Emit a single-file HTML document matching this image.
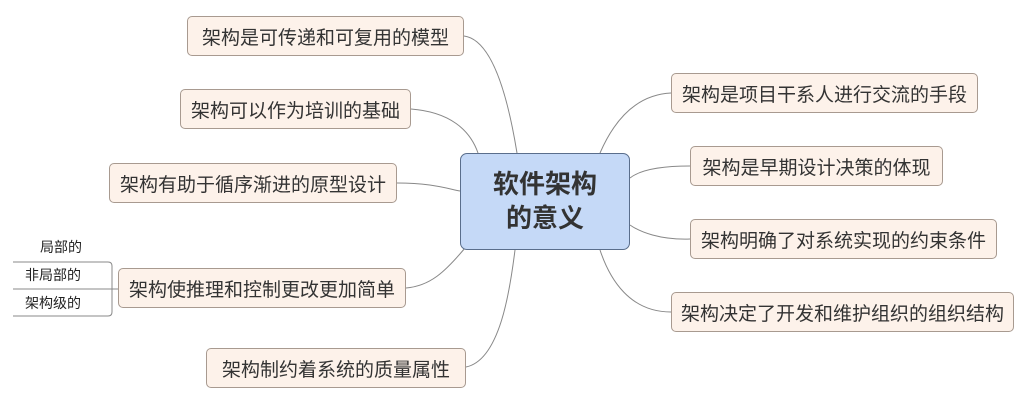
<!DOCTYPE html>
<html><head><meta charset="utf-8"><style>
html,body{margin:0;padding:0;background:#fff;}
body{width:1032px;height:405px;position:relative;overflow:hidden;font-family:"Liberation Sans","Noto Sans CJK SC",sans-serif;}
.b{position:absolute;box-sizing:border-box;background:#fdf2ea;border:1px solid #a89a90;border-radius:5px;font-size:19px;color:#333;display:flex;align-items:center;justify-content:center;white-space:nowrap;letter-spacing:0px;}
.c{position:absolute;left:460px;top:153px;width:170px;height:97px;box-sizing:border-box;background:#c5d9f7;border:1.5px solid #5a6e8c;border-radius:7px;font-size:26px;font-weight:bold;color:#333;text-align:center;line-height:34px;padding-top:13px;}
.s{position:absolute;font-size:14px;color:#222;}
svg{position:absolute;left:0;top:0;}
</style></head><body>
<svg width="1032" height="405">
<g fill="none" stroke="#888" stroke-width="1">
<path d="M464 36 C495 40 510 110 517 153"/>
<path d="M411 109 C450 112 470 130 478 153"/>
<path d="M397 183 C430 183 445 188 460 191"/>
<path d="M406 288 C430 286 445 272 465 248"/>
<path d="M466 367 C500 360 510 290 515 250"/>
<path d="M671 93 C630 95 610 130 600 153"/>
<path d="M690 166 C660 166 640 170 630 178"/>
<path d="M690 239 C660 240 640 232 630 225"/>
<path d="M671 312 C630 312 610 280 600 250"/>
<path d="M13 262 H108 Q112 262 112 266 V312 Q112 316 108 316 H13"/>
<path d="M13 289 H118"/>
</g>
</svg>
<div class="b" style="left:187px;top:16px;width:277px;height:40px;">架构是可传递和可复用的模型</div>
<div class="b" style="left:180px;top:89px;width:231px;height:40px;">架构可以作为培训的基础</div>
<div class="b" style="left:109px;top:163px;width:288px;height:40px;">架构有助于循序渐进的原型设计</div>
<div class="b" style="left:118px;top:268px;width:288px;height:40px;">架构使推理和控制更改更加简单</div>
<div class="b" style="left:206px;top:348px;width:260px;height:40px;">架构制约着系统的质量属性</div>
<div class="b" style="left:671px;top:73px;width:307px;height:40px;">架构是项目干系人进行交流的手段</div>
<div class="b" style="left:690px;top:146px;width:253px;height:40px;">架构是早期设计决策的体现</div>
<div class="b" style="left:690px;top:219px;width:307px;height:40px;">架构明确了对系统实现的约束条件</div>
<div class="b" style="left:671px;top:292px;width:343px;height:40px;">架构决定了开发和维护组织的组织结构</div>
<div class="c">软件架构<br>的意义</div>
<div class="s" style="left:40px;top:237px;">局部的</div>
<div class="s" style="left:25px;top:265px;">非局部的</div>
<div class="s" style="left:25px;top:293px;">架构级的</div>
</body></html>
